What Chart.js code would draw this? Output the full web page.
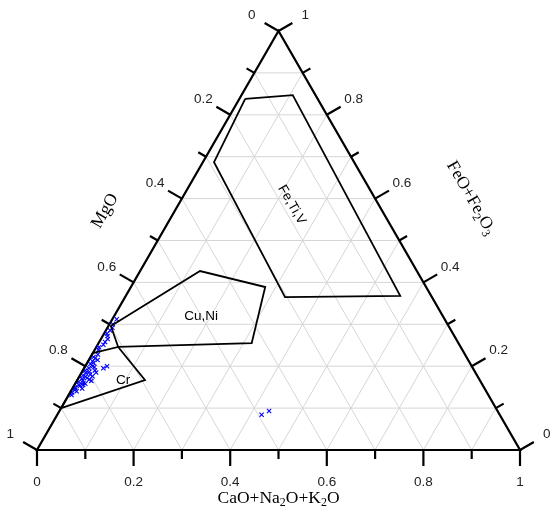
<!DOCTYPE html>
<html>
<head>
<meta charset="utf-8">
<script src="https://cdn.jsdelivr.net/npm/chart.js@4.4.0/dist/chart.umd.min.js"></script>
<style>
  html, body { margin: 0; padding: 0; background: #fff; }
</style>
</head>
<body>
<canvas id="ternary" width="555" height="510"></canvas>
<script>
// ternary axes: CaO+Na2O+K2O (bottom), MgO (left), FeO+Fe2O3 (right)
const tickValues = [0, 0.2, 0.4, 0.6, 0.8, 1];
const tickLabels = ["0", "0.2", "0.4", "0.6", "0.8", "1"];
const minorTicks = [0.1, 0.3, 0.5, 0.7, 0.9];
const gridSteps = [0.1, 0.2, 0.3, 0.4, 0.5, 0.6, 0.7, 0.8, 0.9];

// field outlines as (CaO, FeO) fractions, MgO is the rest
const fieldNames = ["Fe,Ti,V", "Cu,Ni", "Cr"];
const feTiVCaO = [0.012, 0.106, 0.568, 0.331, 0.023];
const feTiVFeO = [0.838, 0.847, 0.368, 0.365, 0.687];
const cuNiCaO = [0.005, 0.124, 0.278, 0.317, 0.045];
const cuNiFeO = [0.296, 0.427, 0.389, 0.255, 0.246];
const crCaO = [0.0, 0.045, 0.14, 0.0];
const crFeO = [0.231, 0.246, 0.167, 0.1];

// samples
const sampleCaO = [0.009, 0.009, 0.010, 0.012, 0.012, 0.008, 0.011, 0.013, 0.045, 0.040,
  0.005, 0.006, 0.018, 0.008, 0.015, 0.020, 0.010, 0.025, 0.005, 0.015,
  0.030, 0.010, 0.020, 0.006, 0.027, 0.013, 0.018, 0.008, 0.024, 0.012,
  0.030, 0.005, 0.016, 0.021, 0.009, 0.012, 0.004, 0.020, 0.007, 0.012,
  0.004, 0.006, 0.018, 0.009, 0.012, 0.006, 0.014, 0.006, 0.010, 0.007,
  0.423, 0.434];
const sampleFeO = [0.312, 0.285, 0.272, 0.258, 0.251, 0.239, 0.219, 0.208, 0.200, 0.195,
  0.148, 0.131, 0.155, 0.205, 0.200, 0.198, 0.195, 0.190, 0.190, 0.187,
  0.185, 0.183, 0.180, 0.178, 0.176, 0.175, 0.172, 0.170, 0.168, 0.166,
  0.165, 0.163, 0.160, 0.158, 0.156, 0.153, 0.150, 0.147, 0.143, 0.140,
  0.137, 0.222, 0.215, 0.212, 0.228, 0.245, 0.265, 0.278, 0.292, 0.300,
  0.084, 0.093];

const toXY = (c, f) => ({ x: c + f / 2, y: f });
const closed = (cs, fs) => {
  const pts = cs.map((c, i) => toXY(c, fs[i]));
  pts.push(pts[0]);
  return pts;
};

const SIN60 = Math.sqrt(3) / 2;

// text with subscript digits, centred at (x, y), rotated by angle
const drawRich = (ctx, parts, x, y, angle, size) => {
  ctx.save();
  ctx.translate(x, y);
  ctx.rotate(angle);
  ctx.textBaseline = "middle";
  ctx.textAlign = "left";
  ctx.fillStyle = "#000";
  let total = 0;
  for (const [t, sub] of parts) {
    ctx.font = `${sub ? size * 0.68 : size}px "Liberation Serif"`;
    total += ctx.measureText(t).width;
  }
  let cx = -total / 2;
  for (const [t, sub] of parts) {
    ctx.font = `${sub ? size * 0.68 : size}px "Liberation Serif"`;
    ctx.fillText(t, cx, sub ? size * 0.3 : 0);
    cx += ctx.measureText(t).width;
  }
  ctx.restore();
};

const ternaryPlugin = {
  id: "ternary",
  beforeDatasetsDraw(chart) {
    const ctx = chart.ctx;
    const xs = chart.scales.x, ys = chart.scales.y;
    const P = (c, f) => { const p = toXY(c, f); return [xs.getPixelForValue(p.x), ys.getPixelForValue(p.y)]; };
    const seg = (a, b) => { ctx.beginPath(); ctx.moveTo(a[0], a[1]); ctx.lineTo(b[0], b[1]); ctx.stroke(); };

    ctx.save();
    ctx.strokeStyle = "#d6d6d6";
    ctx.lineWidth = 1;
    for (const v of gridSteps) {
      seg(P(0, v), P(1 - v, v));
      seg(P(v, 0), P(v, 1 - v));
      seg(P(1 - v, 0), P(0, 1 - v));
    }
    ctx.strokeStyle = "#000";
    ctx.lineWidth = 2.2;
    ctx.lineJoin = "miter";
    ctx.beginPath();
    const a = P(0, 0), b = P(1, 0), c = P(0, 1);
    ctx.moveTo(a[0], a[1]); ctx.lineTo(b[0], b[1]); ctx.lineTo(c[0], c[1]); ctx.closePath();
    ctx.stroke();
    ctx.restore();
  },
  afterDraw(chart) {
    const ctx = chart.ctx;
    const xs = chart.scales.x, ys = chart.scales.y;
    const P = (c, f) => { const p = toXY(c, f); return [xs.getPixelForValue(p.x), ys.getPixelForValue(p.y)]; };
    const major = 16, minor = 9, gap = 31;
    const dirs = {
      bottom: [0, 1],
      left: [-SIN60, -0.5],
      right: [SIN60, -0.5],
    };
    const axisPoint = {
      bottom: (v) => P(v, 0),
      left: (v) => P(0, 1 - v),
      right: (v) => P(1 - v, v),
    };

    ctx.save();
    ctx.strokeStyle = "#000";
    ctx.lineWidth = 2.2;
    ctx.font = '13.5px "Liberation Sans"';
    ctx.fillStyle = "#222";
    ctx.textAlign = "center";
    ctx.textBaseline = "middle";
    for (const side of ["bottom", "left", "right"]) {
      const d = dirs[side];
      const all = [...tickValues.map((v) => [v, major]), ...minorTicks.map((v) => [v, minor])];
      for (const [v, len] of all) {
        const p = axisPoint[side](v);
        ctx.beginPath();
        ctx.moveTo(p[0], p[1]);
        ctx.lineTo(p[0] + d[0] * len, p[1] + d[1] * len);
        ctx.stroke();
      }
      tickValues.forEach((v, i) => {
        const p = axisPoint[side](v);
        ctx.fillText(tickLabels[i], p[0] + d[0] * gap, p[1] + d[1] * gap + (side === "bottom" ? 1 : 0));
      });
    }

    // field names
    ctx.fillStyle = "#000";
    ctx.font = '13.5px "Liberation Sans"';
    const cu = P(0.18, 0.32);
    ctx.fillText(fieldNames[1], cu[0], cu[1]);
    const cr = P(0.095, 0.167);
    ctx.fillText(fieldNames[2], cr[0], cr[1]);
    const fe = P(0.235, 0.585);
    ctx.save();
    ctx.translate(fe[0], fe[1]);
    ctx.rotate(Math.PI / 3);
    ctx.fillText(fieldNames[0], 0, 0);
    ctx.restore();

    // axis titles
    const bx = P(0.5, 0);
    drawRich(ctx, [["CaO+Na", false], ["2", true], ["O+K", false], ["2", true], ["O", false]], bx[0], bx[1] + 48, 0, 17.5);
    drawRich(ctx, [["MgO", false]], 105, 211, -Math.PI / 3, 17.5);
    drawRich(ctx, [["FeO+Fe", false], ["2", true], ["O", false], ["3", true]], 471, 198, Math.PI / 3, 17.5);
    ctx.restore();
  },
};

const outline = (data) => ({
  type: "line",
  data,
  showLine: true,
  fill: false,
  borderColor: "#000",
  borderWidth: 1.8,
  pointRadius: 0,
  tension: 0,
  clip: false,
});

const ctx = document.getElementById("ternary").getContext("2d");
new Chart(ctx, {
  type: "scatter",
  data: {
    datasets: [
      outline(closed(feTiVCaO, feTiVFeO)),
      outline(closed(cuNiCaO, cuNiFeO)),
      outline(closed(crCaO, crFeO)),
      {
        type: "scatter",
        data: sampleCaO.map((c, i) => toXY(c, sampleFeO[i])),
        pointStyle: "crossRot",
        pointRadius: 3,
        borderColor: "#0000ff",
        backgroundColor: "#0000ff",
        borderWidth: 1.1,
        clip: false,
      },
    ],
  },
  options: {
    responsive: false,
    animation: false,
    layout: { padding: { left: 37, right: 35, top: 31, bottom: 60 } },
    scales: {
      x: { type: "linear", min: 0, max: 1, display: false },
      y: { type: "linear", min: 0, max: 1, display: false },
    },
    plugins: {
      legend: { display: false },
      tooltip: { enabled: false },
    },
  },
  plugins: [ternaryPlugin],
});
</script>
</body>
</html>
